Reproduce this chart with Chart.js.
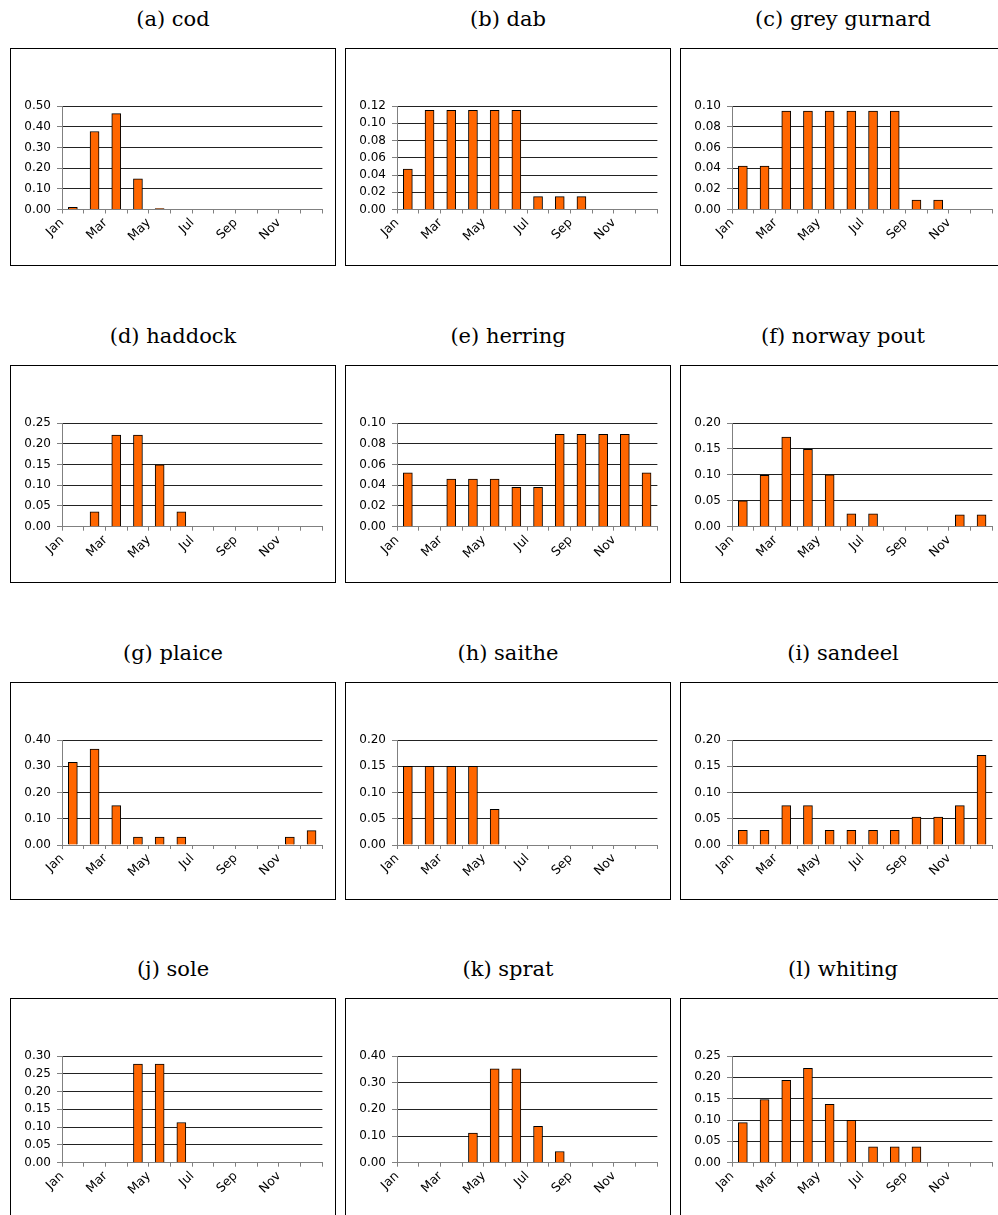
<!DOCTYPE html>
<html>
<head>
<meta charset="utf-8">
<script src="https://cdn.jsdelivr.net/npm/chart.js@4.4.1/dist/chart.umd.min.js"></script>
<style>
  html, body { margin: 0; padding: 0; background: #fff; }
  body { width: 998px; height: 1215px; overflow: hidden; position: relative; }
  .title {
    position: absolute; width: 326px; text-align: center;
    font-family: "DejaVu Serif", serif; font-size: 21px; line-height: 24px; color: #000;
    white-space: nowrap;
  }
  .box { position: absolute; width: 324px; height: 216px; border: 1px solid #000; background: #fff; }
  .box canvas { position: absolute; left: 0; top: 0; }
</style>
</head>
<body>
<script>
// Month tick labels, one per month boundary (Jan..Dec start + year end)
const tickLabels = ['Jan', '', 'Mar', '', 'May', '', 'Jul', '', 'Sep', '', 'Nov', '', ''];

// Panel titles
const panelNames = ['(a) cod', '(b) dab', '(c) grey gurnard', '(d) haddock', '(e) herring', '(f) norway pout',
                    '(g) plaice', '(h) saithe', '(i) sandeel', '(j) sole', '(k) sprat', '(l) whiting'];

// Monthly values, Jan..Dec
const cod        = [0.010, 0.377, 0.463, 0.148, 0.004, 0, 0, 0, 0, 0, 0, 0];
const dab        = [0.047, 0.115, 0.115, 0.115, 0.115, 0.115, 0.015, 0.015, 0.015, 0, 0, 0];
const greyGurnard= [0.042, 0.042, 0.095, 0.095, 0.095, 0.095, 0.095, 0.095, 0.009, 0.009, 0, 0];
const haddock    = [0, 0.036, 0.221, 0.221, 0.149, 0.036, 0, 0, 0, 0, 0, 0];
const herring    = [0.052, 0, 0.046, 0.046, 0.046, 0.038, 0.038, 0.089, 0.089, 0.089, 0.089, 0.052];
const norwayPout = [0.050, 0.099, 0.173, 0.149, 0.100, 0.025, 0.025, 0, 0, 0, 0.023, 0.023];
const plaice     = [0.315, 0.365, 0.150, 0.030, 0.030, 0.030, 0, 0, 0, 0, 0.030, 0.055];
const saithe     = [0.150, 0.150, 0.150, 0.150, 0.068, 0, 0, 0, 0, 0, 0, 0];
const sandeel    = [0.028, 0.028, 0.075, 0.075, 0.028, 0.028, 0.028, 0.028, 0.053, 0.053, 0.075, 0.171];
const sole       = [0, 0, 0, 0.277, 0.277, 0.113, 0, 0, 0, 0, 0, 0];
const sprat      = [0, 0, 0, 0.111, 0.352, 0.352, 0.136, 0.042, 0, 0, 0, 0];
const whiting    = [0.094, 0.148, 0.193, 0.221, 0.137, 0.099, 0.037, 0.037, 0.037, 0, 0, 0];

// Y-axis ranges per panel
const yMax  = [0.50, 0.12, 0.10, 0.25, 0.10, 0.20, 0.40, 0.20, 0.20, 0.30, 0.40, 0.25];
const yStep = [0.10, 0.02, 0.02, 0.05, 0.02, 0.05, 0.10, 0.05, 0.05, 0.05, 0.10, 0.05];

const series = [cod, dab, greyGurnard, haddock, herring, norwayPout, plaice, saithe, sandeel, sole, sprat, whiting];

// Page grid
const colLeft = [10, 345, 680];
const rowTop = [48, 365, 682, 998];
const plotBottomOffset = [160.5, 160.7, 162, 163.7]; // inside the frame, per row
const innerW = 324, innerH = 216;
const plotTop = 57, plotLeft = 51, plotRightPad = 9;

const yTickFont = { family: '"DejaVu Sans", sans-serif', size: 12 };
const xTickFont = { family: '"DejaVu Sans", sans-serif', size: 12.5 };

series.forEach((values, idx) => {
  const row = Math.floor(idx / 3), col = idx % 3;
  const left = colLeft[col], top = rowTop[row];

  const title = document.createElement('div');
  title.className = 'title';
  title.style.left = left + 'px';
  title.style.top = (top - 41) + 'px';
  title.textContent = panelNames[idx];
  document.body.appendChild(title);

  const box = document.createElement('div');
  box.className = 'box';
  box.style.left = left + 'px';
  box.style.top = top + 'px';
  const canvas = document.createElement('canvas');
  canvas.width = innerW;
  canvas.height = innerH;
  box.appendChild(canvas);
  document.body.appendChild(box);

  const axisH = innerH - plotBottomOffset[row];

  new Chart(canvas, {
    type: 'bar',
    data: {
      datasets: [{
        data: values.map((v, i) => ({ x: i + 0.5, y: v })),
        backgroundColor: '#FF6600',
        borderColor: '#000',
        borderWidth: 1,
        barThickness: 9
      }]
    },
    options: {
      responsive: false,
      maintainAspectRatio: false,
      animation: false,
      devicePixelRatio: 1,
      layout: { padding: { top: plotTop, right: plotRightPad, left: 0, bottom: 0 } },
      plugins: { legend: { display: false }, tooltip: { enabled: false } },
      scales: {
        x: {
          type: 'linear',
          min: 0,
          max: 12,
          offset: false,
          grid: { offset: false, drawOnChartArea: false, drawTicks: true, tickLength: 4, tickColor: '#808080' },
          border: { display: true, color: '#808080', width: 1 },
          ticks: {
            stepSize: 1,
            autoSkip: false,
            minRotation: 45,
            maxRotation: 45,
            padding: 2,
            color: '#000',
            font: xTickFont,
            callback: (v) => tickLabels[v] ?? ''
          },
          afterFit: (s) => { s.height = axisH; }
        },
        y: {
          min: 0,
          max: yMax[idx],
          grid: { color: '#222', lineWidth: 1, drawTicks: true, tickLength: 5, tickColor: '#808080' },
          border: { display: true, color: '#808080', width: 1 },
          ticks: {
            stepSize: yStep[idx],
            autoSkip: false,
            padding: 6,
            color: '#000',
            font: yTickFont,
            callback: (v) => Number(v).toFixed(2)
          },
          afterFit: (s) => { s.width = plotLeft; }
        }
      }
    }
  });
});
</script>
</body>
</html>
